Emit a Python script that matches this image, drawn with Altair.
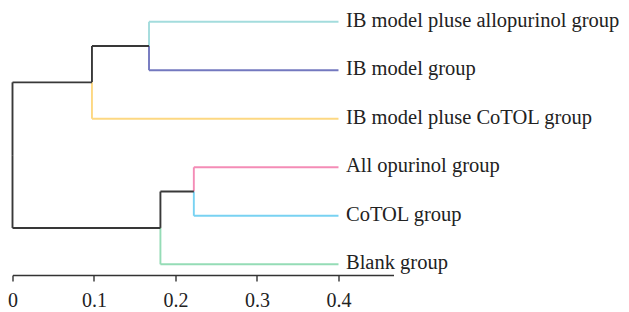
import altair as alt
import pandas as pd

# Leaves (top to bottom) and their branch colours
leaves = [
    "IB model pluse allopurinol group",
    "IB model group",
    "IB model pluse CoTOL group",
    "All opurinol group",
    "CoTOL group",
    "Blank group",
]
leaf_colors = ["#a3dcdd", "#7378bf", "#fdd882", "#f48cb6", "#78d2f2", "#95dcb6"]
leaf_pos = 0.4  # leaves end at 0.4 on the axis

# Merges: (child a, child b, position on axis); node ids continue after leaves
merges = [
    (0, 1, 0.1675),   # node 6
    (6, 2, 0.0975),   # node 7
    (3, 4, 0.2225),   # node 8
    (8, 5, 0.1815),   # node 9
    (7, 9, 0.0),      # node 10 (root)
]
tick_values = [0, 0.1, 0.2, 0.3, 0.4]
link_color = "#383838"

# Build node coordinates
node_x = {i: leaf_pos for i in range(len(leaves))}
node_y = {i: float(i) for i in range(len(leaves))}
node_c = {i: leaf_colors[i] for i in range(len(leaves))}
nid = len(leaves)
segs = []
for a, b, h in merges:
    node_x[nid] = h
    node_y[nid] = (node_y[a] + node_y[b]) / 2
    node_c[nid] = link_color
    for ch in (a, b):
        segs.append({"x": h, "x2": h, "y": node_y[nid], "y2": node_y[ch], "color": node_c[ch]})
        segs.append({"x": h, "x2": node_x[ch], "y": node_y[ch], "y2": node_y[ch], "color": node_c[ch]})
    nid += 1

seg_df = pd.DataFrame(segs)
lab_df = pd.DataFrame({"label": leaves, "x": [leaf_pos] * len(leaves), "y": list(range(len(leaves)))})

xscale = alt.Scale(domain=[0, 0.4675], nice=False, zero=False)
yscale = alt.Scale(domain=[-0.282, 5.22], reverse=True, nice=False, zero=False)

xaxis = alt.Axis(values=tick_values, title=None, grid=False, format="~g",
                 domainColor="#333333", domainWidth=1.4, tickColor="#333333",
                 tickWidth=1.4, tickSize=6, labelPadding=9,
                 labelFont="Liberation Serif", labelFontSize=20, labelColor="#222222",
                 labelFlush=False)

lines = alt.Chart(seg_df).mark_rule(strokeWidth=1.9).encode(
    x=alt.X("x:Q", scale=xscale, axis=xaxis),
    x2="x2:Q",
    y=alt.Y("y:Q", scale=yscale, axis=None),
    y2="y2:Q",
    color=alt.Color("color:N", scale=None),
)

labels = alt.Chart(lab_df).mark_text(
    align="left", baseline="middle", dx=7.5, dy=-1,
    font="Liberation Serif", fontSize=20.5, color="#222222",
).encode(
    x=alt.X("x:Q", scale=xscale, axis=xaxis),
    y=alt.Y("y:Q", scale=yscale, axis=None),
    text="label:N",
)

chart = alt.layer(lines, labels).properties(
    width=381, height=267,
    background="white",
    autosize=alt.AutoSizeParams(type="none"),
    padding={"left": 4.5, "top": 0, "right": 227, "bottom": 36},
).configure_view(stroke=None)

chart.save("out.html", embed_options={"renderer": "svg", "actions": False})
